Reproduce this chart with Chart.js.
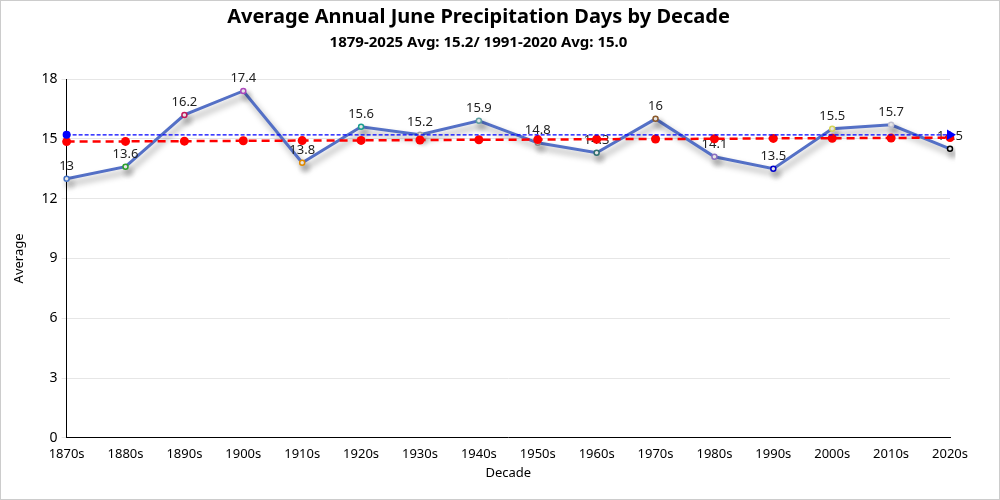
<!DOCTYPE html>
<html>
<head>
<meta charset="utf-8">
<script src="https://cdn.jsdelivr.net/npm/chart.js@4/dist/chart.umd.min.js"></script>
<style>
  html, body { margin: 0; padding: 0; background: #fff; }
  #wrap { width: 1000px; height: 500px; box-sizing: border-box; border: 1px solid #ccc; }
  canvas { display: block; }
</style>
</head>
<body>
<div id="wrap"><canvas id="chart" width="998" height="498"></canvas></div>
<script>
const decades = ["1870s", "1880s", "1890s", "1900s", "1910s", "1920s", "1930s", "1940s",
  "1950s", "1960s", "1970s", "1980s", "1990s", "2000s", "2010s", "2020s"];
const averages = [13, 13.6, 16.2, 17.4, 13.8, 15.6, 15.2, 15.9, 14.8, 14.3, 16, 14.1, 13.5, 15.5, 15.7, 14.5];
const trend = [14.86, 14.87, 14.88, 14.9, 14.91, 14.92, 14.94, 14.95, 14.96, 14.98, 14.99, 15.0, 15.02, 15.03, 15.04, 15.06];
const longAvg = [15.2, 15.2, 15.2, 15.2, 15.2, 15.2, 15.2, 15.2, 15.2, 15.2, 15.2, 15.2, 15.2, 15.2, 15.2, 15.2];
const pointColors = ["#4472c4", "#2ca02c", "#c2185b", "#ab47bc", "#e08a00", "#1a9e8f", "#a0a0a0", "#5f9ea0",
  "#888888", "#2f6f6f", "#8b5a2b", "#8a6fc0", "#0000cc", "#d4d45a", "#c0c0d0", "#000000"];
const yTicks = [0, 3, 6, 9, 12, 15, 18];

const fontFamily = "'Noto Sans', sans-serif";

// shadow under the main line, then value labels right after it
const shadowPlugin = {
  id: "shadow",
  beforeDatasetDraw(chart, args) {
    if (args.index !== 2) return;
    const ctx = chart.ctx;
    ctx.save();
    ctx.shadowColor = "rgba(0,0,0,0.38)";
    ctx.shadowBlur = 6;
    ctx.shadowOffsetX = 3;
    ctx.shadowOffsetY = 5;
  },
  afterDatasetDraw(chart, args) {
    if (args.index !== 2) return;
    const ctx = chart.ctx;
    ctx.restore();
    ctx.save();
    ctx.font = "13px " + fontFamily;
    ctx.fillStyle = "#222";
    ctx.textAlign = "center";
    ctx.textBaseline = "bottom";
    args.meta.data.forEach((pt, i) => {
      ctx.fillText(String(averages[i]), pt.x, pt.y - 6);
    });
    ctx.restore();
  }
};

new Chart(document.getElementById("chart"), {
  type: "line",
  data: {
    labels: decades,
    datasets: [
      {
        label: "1879-2025 Avg",
        data: longAvg,
        borderColor: "blue",
        borderWidth: 1.2,
        borderDash: [4, 2],
        pointRadius: longAvg.map((v, i) => (i === 0 ? 4 : i === longAvg.length - 1 ? 6 : 0)),
        pointBorderWidth: 0,
        pointStyle: longAvg.map((v, i) => (i === longAvg.length - 1 ? "triangle" : "circle")),
        rotation: 90,
        pointBackgroundColor: "blue",
        pointBorderColor: "blue",
        fill: false,
        order: 1
      },
      {
        label: "Trend",
        data: trend,
        borderColor: "red",
        borderWidth: 2.5,
        borderDash: [8, 5],
        pointRadius: 4.5,
        pointBorderWidth: 0,
        pointBackgroundColor: "red",
        pointBorderColor: "red",
        fill: false,
        order: 2
      },
      {
        label: "Average",
        data: averages,
        borderColor: "#5470c6",
        borderWidth: 3,
        pointRadius: 2.5,
        pointBorderWidth: 1.5,
        pointBackgroundColor: "#eeeeee",
        pointBorderColor: pointColors,
        fill: false,
        tension: 0,
        order: 3
      }
    ]
  },
  options: {
    responsive: false,
    animation: false,
    layout: { padding: { left: 6, right: 49, top: 0, bottom: 18 } },
    plugins: {
      legend: { display: false },
      tooltip: { enabled: false },
      title: {
        display: true,
        text: "Average Annual June Precipitation Days by Decade",
        font: { family: fontFamily, size: 20, weight: "bold" },
        color: "#000",
        padding: { top: 4, bottom: 5 }
      },
      subtitle: {
        display: true,
        text: "1879-2025 Avg: 15.2/ 1991-2020 Avg: 15.0",
        font: { family: fontFamily, size: 15, weight: "bold" },
        color: "#000",
        padding: { bottom: 27 }
      }
    },
    scales: {
      x: {
        offset: false,
        grid: { display: false, drawTicks: true },
        border: { color: "#000", width: 1 },
        ticks: { color: "#000", padding: 1, font: { family: fontFamily, size: 13 }, maxRotation: 0, autoSkip: false },
        title: { display: true, text: "Decade", color: "#000", padding: { top: 2, bottom: 0 }, font: { family: fontFamily, size: 13 } }
      },
      y: {
        min: 0,
        max: 18,
        afterBuildTicks(axis) { axis.ticks = yTicks.map(v => ({ value: v })); },
        grid: { color: "#e6e6e6", tickLength: 5 },
        border: { color: "#000", width: 1 },
        ticks: { color: "#000", padding: 4, font: { family: fontFamily, size: 14 } },
        title: { display: true, text: "Average", color: "#000", padding: { top: 4, bottom: 11 }, font: { family: fontFamily, size: 13 } }
      }
    }
  },
  plugins: [shadowPlugin]
});
</script>
</body>
</html>
